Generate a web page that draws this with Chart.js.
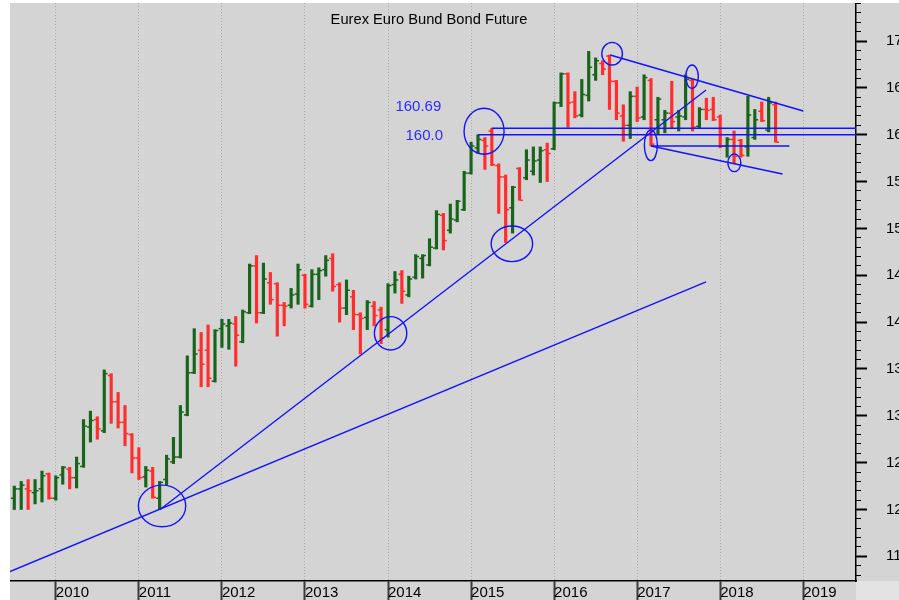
<!DOCTYPE html>
<html>
<head>
<meta charset="utf-8">
<title>Eurex Euro Bund Bond Future</title>
<script src="https://cdn.jsdelivr.net/npm/chart.js@4.4.1/dist/chart.umd.min.js"></script>
<style>
  html, body { margin: 0; padding: 0; background: #fff; overflow: hidden; }
  #wrap { position: absolute; left: 10px; top: 3px; width: 905px; height: 597px; }
</style>
</head>
<body>
<div id="wrap"><canvas id="chart" width="905" height="597"></canvas></div>
<script>
// monthly bars, first bar is Jul 2009 (month 0 = Jan 2010)
const firstMonth = -6;
const yearLabels = ['2010', '2011', '2012', '2013', '2014', '2015', '2016', '2017', '2018', '2019'];

const openPrices = [
  121.2, 122.2, 122.2, 121.8, 122.2, 123.8, 121.2, 123.7, 124.3, 123.4,
  124.6, 128.8, 129.6, 128.4, 134.3, 131.5, 129.3, 128.0, 125.5, 123.5,
  124.1, 121.2, 123.2, 125.1, 125.6, 130.1, 134.6, 137.0, 137.0, 133.7,
  139.3, 139.6, 139.8, 137.9, 141.0, 146.0, 141.0, 144.2, 144.1, 141.8,
  141.8, 143.0, 145.0, 141.7, 145.1, 145.6, 146.8, 144.0, 141.5, 142.7,
  140.8, 140.5, 141.7, 141.3, 139.2, 144.0, 145.1, 142.9, 144.8, 146.8,
  146.1, 147.9, 151.4, 149.8, 150.9, 152.0, 155.9, 158.6, 159.4, 160.4,
  156.7, 155.5, 152.2, 156.4, 155.4, 156.1, 157.3, 158.4, 158.5, 163.4,
  166.5, 163.5, 162.1, 164.2, 166.4, 167.6, 168.4, 165.7, 162.0, 161.0,
  164.1, 161.9, 165.8, 161.6, 161.6, 162.3, 161.9, 161.9, 165.8, 160.9,
  162.7, 162.7, 161.9, 158.8, 159.5, 159.4, 158.7, 159.7, 162.5, 160.5,
  163.2
];
const highPrices = [
  122.5, 123.0, 123.2, 123.2, 124.1, 123.9, 123.6, 124.6, 124.5, 125.6,
  129.6, 130.5, 129.9, 134.9, 134.5, 132.5, 131.1, 128.1, 126.6, 124.6,
  124.5, 123.0, 125.8, 127.7, 131.1, 136.4, 139.3, 138.9, 139.7, 139.2,
  140.3, 140.3, 140.6, 141.3, 146.2, 147.1, 146.3, 145.3, 144.2, 142.1,
  143.6, 146.2, 145.1, 145.6, 145.8, 147.1, 147.3, 144.2, 144.5, 143.4,
  141.0, 142.3, 142.2, 141.6, 144.1, 145.4, 145.5, 144.9, 147.2, 147.2,
  148.9, 151.9, 151.6, 152.6, 153.0, 156.1, 159.2, 160.0, 159.7, 160.69,
  156.9, 155.7, 154.5, 156.5, 158.4, 158.7, 158.7, 159.1, 163.5, 166.6,
  166.6, 164.6, 165.9, 168.9, 168.2, 167.9, 168.5, 165.8, 163.2, 164.6,
  165.1, 166.4, 166.0, 164.0, 162.6, 165.7, 162.6, 166.4, 165.9, 162.9,
  163.9, 164.0, 162.1, 159.7, 160.4, 159.5, 164.1, 162.7, 163.5, 164.0,
  163.5
];
const lowPrices = [
  120.0, 120.0, 120.0, 120.6, 120.8, 121.1, 121.0, 122.7, 122.2, 122.3,
  124.5, 127.2, 127.5, 128.2, 129.2, 128.7, 126.8, 123.9, 123.2, 122.4,
  121.2, 120.0, 122.6, 124.9, 125.5, 130.0, 134.5, 133.1, 133.1, 133.6,
  137.3, 137.1, 135.3, 137.8, 140.9, 139.9, 140.9, 141.9, 138.5, 139.6,
  141.5, 141.9, 141.5, 141.6, 142.4, 144.9, 143.3, 140.0, 140.8, 139.2,
  136.6, 139.2, 139.6, 137.7, 138.4, 143.1, 142.0, 142.7, 144.6, 144.7,
  146.0, 147.8, 147.7, 149.5, 150.7, 151.9, 155.8, 158.0, 156.3, 156.7,
  151.6, 148.5, 149.5, 153.0, 155.2, 155.7, 154.9, 155.0, 158.4, 163.0,
  160.8, 161.8, 161.9, 163.6, 165.8, 166.4, 162.7, 161.6, 159.3, 159.6,
  161.4, 161.6, 158.8, 160.1, 160.2, 160.7, 160.4, 161.6, 160.4, 160.7,
  161.6, 161.5, 158.6, 157.6, 156.9, 157.6, 157.7, 159.5, 161.4, 160.3,
  159.2
];
const closePrices = [
  122.2, 122.6, 122.0, 122.0, 123.6, 121.2, 123.4, 124.5, 123.4, 124.9,
  128.9, 129.5, 128.6, 134.5, 131.5, 129.3, 128.1, 125.5, 123.4, 124.2,
  121.3, 122.9, 125.4, 125.6, 130.4, 134.6, 136.6, 135.5, 134.0, 139.1,
  139.8, 139.9, 138.6, 141.1, 146.0, 141.0, 144.6, 142.4, 141.8, 141.7,
  142.9, 145.6, 141.9, 145.1, 145.5, 146.6, 143.8, 141.5, 143.4, 140.8,
  140.4, 142.1, 140.7, 138.3, 143.9, 144.5, 143.3, 144.6, 147.0, 147.1,
  148.0, 151.5, 148.7, 151.0, 152.9, 155.9, 158.8, 159.5, 158.8, 156.8,
  155.5, 152.0, 154.4, 153.0, 157.3, 157.2, 158.3, 158.0, 163.4, 166.5,
  163.4, 162.0, 164.3, 167.2, 167.9, 167.0, 165.7, 162.3, 161.0, 164.1,
  161.8, 166.1, 159.0, 163.8, 162.3, 161.4, 162.0, 165.9, 160.8, 162.7,
  162.6, 161.6, 158.8, 159.5, 157.7, 157.8, 162.1, 161.6, 161.5, 163.4,
  159.2
];

// drawn studies, in [month, price]
const trendLines = [
  [[-6.62, 113.37], [93.96, 144.29]],
  [[15.06, 120.0], [93.96, 164.78]],
  [[63.0, 160.69], [115.62, 160.69]],
  [[61.0, 160.0], [115.62, 160.0]],
  [[80.1, 168.51], [108.0, 162.53]],
  [[86.0, 158.8], [106.0, 158.8]],
  [[86.0, 158.8], [105.0, 155.81]]
];
// [month, price, month radius, price radius]
const circles = [
  [15.35, 120.38, 3.42, 2.22],
  [48.37, 138.81, 2.34, 1.78],
  [65.9, 148.36, 3.0, 1.9],
  [61.88, 160.37, 2.89, 2.45],
  [80.38, 168.65, 1.49, 1.21],
  [91.93, 166.19, 0.91, 1.25],
  [85.98, 158.87, 0.94, 1.63],
  [98.04, 157.0, 0.94, 0.94]
];
const levelLabels = ['160.69', '160.0'];
const levelSpots = [[55.7, 162.96], [55.95, 159.86]];

const xMin = -6.62, xMax = 115.62;
const yMin = 112.37, yMax = 174.06;

const GREEN = '#17641a';
const RED = '#ff2d2d';
const BLUE = '#1212ff';
const FONT = 'Arial, "Liberation Sans", sans-serif';

const months = openPrices.map((_, i) => firstMonth + i);
const barColors = openPrices.map((o, i) => (closePrices[i] >= o ? GREEN : RED));

const datasets = [
  {
    type: 'bar',
    data: months.map((m, i) => ({ x: m, y: [lowPrices[i], highPrices[i]] })),
    backgroundColor: barColors,
    borderWidth: 0,
    barThickness: 2.5,
    order: 3
  },
  {
    type: 'scatter',
    data: months.map((m, i) => ({ x: m - 0.3, y: openPrices[i] })),
    pointStyle: 'line',
    pointRadius: 1.3,
    pointBorderWidth: 1.5,
    pointBorderColor: barColors,
    order: 2
  },
  {
    type: 'scatter',
    data: months.map((m, i) => ({ x: m + 0.3, y: closePrices[i] })),
    pointStyle: 'line',
    pointRadius: 1.3,
    pointBorderWidth: 1.5,
    pointBorderColor: barColors,
    order: 2
  }
];
trendLines.forEach((seg) => {
  datasets.push({
    type: 'line',
    data: seg.map(([x, y]) => ({ x, y })),
    borderColor: BLUE,
    borderWidth: 1.4,
    pointRadius: 0,
    fill: false,
    tension: 0,
    order: 1
  });
});

// no extra room for edge labels, the plot fills the canvas
function noPad(s) {
  s.paddingLeft = 0;
  s.paddingRight = 0;
  s.paddingTop = 0;
  s.paddingBottom = 0;
}

const backdrop = {
  id: 'backdrop',
  beforeDraw(chart) {
    const { ctx, width, height, chartArea } = chart;
    ctx.save();
    ctx.fillStyle = '#d4d4d4';
    ctx.fillRect(0, 0, width, height);
    ctx.fillStyle = '#e3e3e3';
    ctx.fillRect(chartArea.right, chartArea.bottom, width - chartArea.right, height - chartArea.bottom);
    ctx.restore();
  }
};

const studies = {
  id: 'studies',
  afterDatasetsDraw(chart) {
    const { ctx, scales: { x, y }, chartArea } = chart;
    ctx.save();
    ctx.strokeStyle = BLUE;
    ctx.lineWidth = 1.4;
    circles.forEach(([cm, cp, rm, rp]) => {
      const cx = x.getPixelForValue(cm);
      const cy = y.getPixelForValue(cp);
      const rx = Math.abs(x.getPixelForValue(cm + rm) - cx);
      const ry = Math.abs(y.getPixelForValue(cp + rp) - cy);
      ctx.beginPath();
      ctx.ellipse(cx, cy, rx, ry, 0, 0, Math.PI * 2);
      ctx.stroke();
    });
    ctx.fillStyle = '#2b2bff';
    ctx.font = '15px ' + FONT;
    ctx.textAlign = 'right';
    ctx.textBaseline = 'middle';
    levelLabels.forEach((txt, i) => {
      ctx.fillText(txt, x.getPixelForValue(levelSpots[i][0]), y.getPixelForValue(levelSpots[i][1]));
    });
    ctx.fillStyle = '#000';
    ctx.textAlign = 'center';
    ctx.font = '14.7px ' + FONT;
    ctx.fillText('Eurex Euro Bund Bond Future', (chartArea.left + chartArea.right) / 2 - 4, 17);
    ctx.restore();
  }
};

new Chart(document.getElementById('chart'), {
  type: 'bar',
  data: { datasets },
  plugins: [backdrop, studies],
  options: {
    responsive: false,
    animation: false,
    events: [],
    layout: { padding: 0, autoPadding: false },
    plugins: { legend: { display: false }, tooltip: { enabled: false }, title: { display: false } },
    scales: {
      x: {
        type: 'linear',
        min: xMin,
        max: xMax,
        offset: false,
        afterFit: (s) => { s.height = 19; noPad(s); },
        ticks: {
          stepSize: 12,
          includeBounds: false,
          align: 'start',
          maxRotation: 0,
          autoSkip: false,
          padding: -17,
          color: '#000',
          font: { family: FONT, size: 15 },
          callback: (v) => yearLabels[Math.round(v / 12)] || ''
        },
        grid: {
          offset: false,
          color: '#a9a9a9',
          lineWidth: 1,
          tickLength: 20,
          tickColor: '#3a3a3a',
          tickWidth: 2,
          tickBorderDash: []
        },
        border: { display: true, color: '#000', width: 1.5, dash: [1, 2] }
      },
      y: {
        type: 'linear',
        position: 'right',
        min: yMin,
        max: yMax,
        weight: 1,
        afterFit: (s) => { s.width = 59; noPad(s); },
        ticks: {
          stepSize: 5,
          includeBounds: false,
          padding: 19,
          color: '#000',
          font: { family: FONT, size: 15 },
          callback: (v) => String(v)
        },
        grid: { drawOnChartArea: false, tickLength: 11, tickColor: '#000', tickWidth: 2 },
        border: { display: true, color: '#000', width: 1.5 }
      },
      y2: {
        type: 'linear',
        position: 'right',
        min: yMin,
        max: yMax,
        weight: 0,
        afterFit: (s) => { s.width = 0; noPad(s); },
        ticks: { stepSize: 1, includeBounds: false, display: false },
        grid: { drawOnChartArea: false, tickLength: 5, tickColor: '#000', tickWidth: 1 },
        border: { display: false }
      }
    }
  }
});
</script>
</body>
</html>
